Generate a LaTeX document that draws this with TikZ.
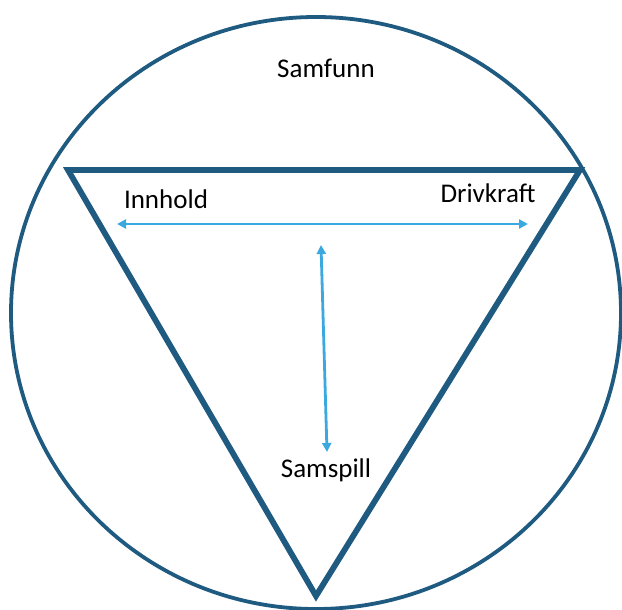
\documentclass[tikz,border=0pt]{standalone}
\usepackage{fontspec}
\setmainfont{Carlito}
\usetikzlibrary{arrows.meta}
\definecolor{ringblue}{HTML}{1F5A80}
\definecolor{linkblue}{HTML}{3CA8E0}
\tikzset{
    ring/.style={draw=ringblue, line width=3.8pt},
    tri/.style={draw=ringblue, line width=5.8pt, line join=miter},
    label/.style={font=\fontsize{27}{32}\selectfont, text=black, inner sep=0pt},
    link/.style={{Triangle[length=9pt,width=9pt]}-{Triangle[length=9pt,width=9pt]}, draw=linkblue, line width=2.8pt}
}
\begin{document}
\begin{tikzpicture}[x=1pt, y=-1pt]
        \useasboundingbox (0,0) rectangle (622,610);
        % outer ring
        \draw[ring] (316,313) ellipse [x radius=305, y radius=296];

        % triangle corners
        \coordinate (left) at (68,170);
        \coordinate (right) at (580,170);
        \coordinate (tip) at (316,596);
        \draw[tri] (left) -- (right) -- (tip) -- cycle;

        \node[label] (samfunn) at (326,68) {Samfunn};
        \node[label] (innhold) at (166,199) {Innhold};
        \node[label] (drivkraft) at (488,193) {Drivkraft};
        \node[label] (samspill) at (326,470) {Samspill};

        % arrow ends
        \coordinate (hleft) at (117,224);
        \coordinate (hright) at (528,224);
        \coordinate (vtop) at (321,245);
        \coordinate (vbottom) at (327,452);
        \draw[link] (hleft) -- (hright);
        \draw[link] (vtop) -- (vbottom);
    \end{tikzpicture}
\end{document}
